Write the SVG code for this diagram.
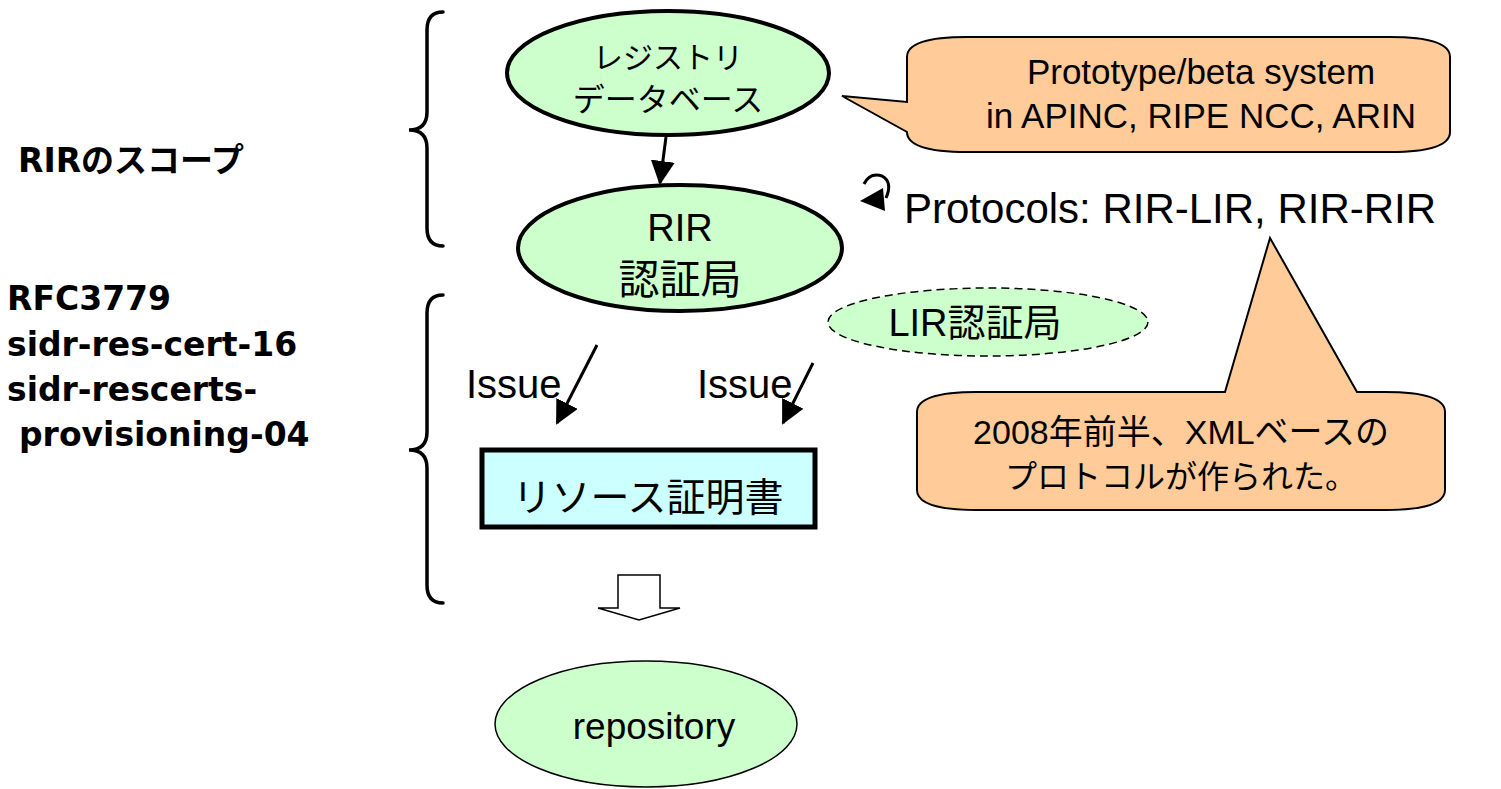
<svg xmlns="http://www.w3.org/2000/svg" width="1501" height="789" viewBox="0 0 1501 789">
  <style>
    .jp { font-family: "Liberation Sans", "Noto Sans CJK JP", sans-serif; fill: #000; }
    .lbl { font-family: "DejaVu Sans", "Noto Sans CJK JP", sans-serif; font-weight: bold; font-size: 33px; fill: #000; }
    .node { fill: #ccffcc; stroke: #000; stroke-width: 4; }
    .thin { fill: #ccffcc; stroke: #000; stroke-width: 1.5; }
    .callout { fill: #ffcc99; stroke: #000; stroke-width: 2; }
    .brace { fill: none; stroke: #000; stroke-width: 3.5; stroke-linecap: round; }
    .link { fill: none; stroke: #000; stroke-width: 3; }
  </style>
  <defs>
    <marker id="head" markerUnits="userSpaceOnUse" markerWidth="24" markerHeight="24" viewBox="0 0 24 24" refX="22" refY="12" orient="auto">
      <path d="M0,0 L24,12 L0,24 Z" fill="#000"/>
    </marker>
  </defs>

  <!-- left-hand labels -->
  <g id="labels">
    <text class="lbl" x="18" y="172">RIRのスコープ</text>
    <text class="lbl" x="7" y="310">RFC3779</text>
    <text class="lbl" x="7" y="356">sidr-res-cert-16</text>
    <text class="lbl" x="7" y="401">sidr-rescerts-</text>
    <text class="lbl" x="19" y="446">provisioning-04</text>
  </g>

  <!-- braces -->
  <g id="braces">
    <path class="brace" d="M443,12 Q427,12 427,30 L427,112 Q427,130 409,130 Q427,130 427,148 L427,228 Q427,246 443,246"/>
    <path class="brace" d="M443,295 Q427,295 427,313 L427,432 Q427,450 409,450 Q427,450 427,468 L427,585 Q427,603 443,603"/>
  </g>

  <g id="registry-db">
    <ellipse class="node" cx="668" cy="73" rx="161" ry="62"/>
    <text class="jp" x="668" y="68" font-size="30" text-anchor="middle">レジストリ</text>
    <text class="jp" x="668" y="111" font-size="32" text-anchor="middle">データベース</text>
  </g>

  <g id="rir-ca">
    <ellipse class="node" cx="680" cy="248" rx="162" ry="63"/>
    <text class="jp" x="680" y="241" font-size="38" text-anchor="middle">RIR</text>
    <text class="jp" x="680" y="294" font-size="41" text-anchor="middle">認証局</text>
  </g>

  <g id="lir-ca">
    <ellipse cx="988" cy="322" rx="160" ry="34" fill="#ccffcc" stroke="#000" stroke-width="1.5" stroke-dasharray="8,5"/>
    <text class="jp" x="975" y="336" font-size="38" text-anchor="middle">LIR認証局</text>
  </g>

  <g id="resource-cert">
    <rect x="482" y="450" width="333" height="77" fill="#ccffff" stroke="#000" stroke-width="5"/>
    <text class="jp" x="648" y="511" font-size="39" text-anchor="middle">リソース証明書</text>
  </g>

  <g id="repository">
    <ellipse class="thin" cx="646" cy="724" rx="151" ry="63"/>
    <text class="jp" x="654" y="739" font-size="37" text-anchor="middle">repository</text>
  </g>

  <!-- callouts -->
  <g id="note-prototype">
    <path class="callout" d="M907,102 L907,57 Q907,37 967,37 L1390,37 Q1450,37 1450,57 L1450,132 Q1450,152 1390,152 L967,152 Q907,152 907,132 L842,96 Z"/>
    <text class="jp" x="1201" y="84" font-size="35" text-anchor="middle">Prototype/beta system</text>
    <text class="jp" x="1201" y="128" font-size="35" text-anchor="middle">in APINC, RIPE NCC, ARIN</text>
  </g>

  <g id="protocols">
    <path d="M864,184 Q870,172 882,176 Q893,182 886,198" fill="none" stroke="#000" stroke-width="3"/>
    <path d="M860,201 L883,188 L885,211 Z" fill="#000"/>
    <text class="jp" x="904" y="223" font-size="42">Protocols: RIR-LIR, RIR-RIR</text>
  </g>

  <g id="note-xml">
    <path class="callout" d="M1225,392 L1270,238 L1357,392 L1385,392 Q1445,392 1445,412 L1445,490 Q1445,510 1385,510 L977,510 Q917,510 917,490 L917,412 Q917,392 977,392 Z"/>
    <text class="jp" x="1181" y="444" font-size="34" text-anchor="middle">2008年前半、XMLベースの</text>
    <text class="jp" x="1181" y="488" font-size="32" text-anchor="middle">プロトコルが作られた。</text>
  </g>

  <!-- connectors -->
  <g id="connectors">
    <line class="link" x1="666" y1="137" x2="660" y2="183" marker-end="url(#head)"/>
    <text class="jp" x="466" y="398" font-size="40">Issue</text>
    <line class="link" x1="597" y1="345" x2="557" y2="423" marker-end="url(#head)"/>
    <text class="jp" x="697" y="398" font-size="40">Issue</text>
    <line class="link" x1="813" y1="363" x2="783" y2="423" marker-end="url(#head)"/>
    <path d="M618,575 L660,575 L660,608 L680,608 L639,620 L598,608 L618,608 Z" fill="#fff" stroke="#000" stroke-width="1.5"/>
  </g>
</svg>
